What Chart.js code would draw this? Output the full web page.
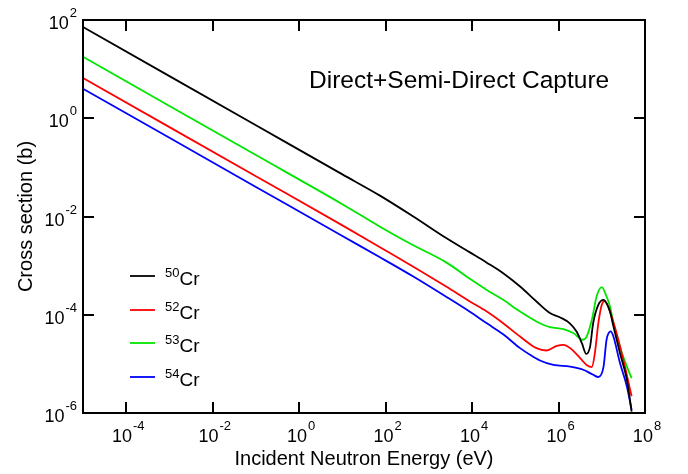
<!DOCTYPE html>
<html>
<head>
<meta charset="utf-8">
<title>Direct+Semi-Direct Capture</title>
<script src="https://cdn.jsdelivr.net/npm/chart.js@4.4.0/dist/chart.umd.min.js"></script>
<style>
  html, body { margin: 0; padding: 0; background: #fff; }
  canvas { display: block; }
</style>
</head>
<body>
<canvas id="capChart" width="688" height="474"></canvas>
<script>
// neutron energies (eV) and capture cross sections (b) per isotope
const energy50 = [1e-5, 1e-3, 0.1, 10, 74, 437, 2570, 8900, 21900, 52500, 1.29e5, 3.09e5, 6.31e5, 1.07e6, 1.82e6, 2.63e6, 3.47e6, 4.37e6, 5.37e6, 6.31e6, 8.32e6, 1.10e7, 1.29e7, 1.55e7, 1.86e7, 2.63e7, 3.8e7, 4.9e7];
const sigma50 = [72, 7.2, 0.72, 0.072, 0.0266, 0.0100, 3.6e-3, 1.86e-3, 1.15e-3, 7.0e-4, 3.75e-4, 1.86e-4, 1.08e-4, 8.9e-5, 6.7e-5, 4.5e-5, 2.64e-5, 1.6e-5, 2.25e-5, 6.7e-5, 1.59e-4, 2.01e-4, 1.72e-4, 1.16e-4, 5.8e-5, 1.66e-5, 4.8e-6, 1.07e-6];

const energy52 = [1e-5, 1e-3, 0.1, 10, 74, 437, 2570, 8900, 21900, 52500, 1.29e5, 3.09e5, 5.25e5, 9.12e5, 1.29e6, 1.86e6, 3.16e6, 4.47e6, 5.89e6, 6.92e6, 8.32e6, 1.0e7, 1.17e7, 1.41e7, 2.19e7, 3.16e7, 4.9e7];
const sigma52 = [6.6, 0.66, 0.066, 6.6e-3, 2.37e-3, 9.5e-4, 3.7e-4, 1.86e-4, 1.16e-4, 6.7e-5, 3.6e-5, 2.09e-5, 1.87e-5, 2.32e-5, 2.44e-5, 2.09e-5, 1.31e-5, 9.5e-6, 8.6e-6, 1.65e-5, 6.7e-5, 1.6e-4, 1.9e-4, 1.45e-4, 4.3e-5, 1.2e-5, 2.2e-6];

const energy53 = [1e-5, 1e-3, 0.1, 10, 74, 437, 2570, 8900, 21900, 52500, 1.29e5, 3.09e5, 6.31e5, 1.29e6, 2.19e6, 3.63e6, 4.47e6, 5.89e6, 7.59e6, 1.0e7, 1.29e7, 1.55e7, 1.86e7, 2.63e7, 3.8e7, 4.9e7];
const sigma53 = [17.8, 1.78, 0.178, 0.0178, 6.2e-3, 2.6e-3, 1.15e-3, 5.4e-4, 3.2e-4, 2.01e-4, 1.16e-4, 7.3e-5, 5.6e-5, 5.1e-5, 4.24e-5, 3.1e-5, 3.6e-5, 7.9e-5, 2.35e-4, 3.65e-4, 2.35e-4, 1.48e-4, 6.8e-5, 2.2e-5, 8.9e-6, 5.1e-6];

const energy54 = [1e-5, 1e-3, 0.1, 10, 74, 437, 2570, 8900, 21900, 52500, 1.29e5, 2.19e5, 3.72e5, 7.59e5, 1.86e6, 3.72e6, 6.31e6, 8.32e6, 1.10e7, 1.29e7, 1.62e7, 1.86e7, 2.63e7, 3.8e7, 4.9e7];
const sigma54 = [4.0, 0.40, 0.040, 4.0e-3, 1.48e-3, 6.0e-4, 2.3e-4, 1.15e-4, 6.7e-5, 4.0e-5, 2.09e-5, 1.53e-5, 1.17e-5, 9.5e-6, 8.8e-6, 7.6e-6, 6.0e-6, 5.4e-6, 8.8e-6, 3.1e-5, 4.6e-5, 3.6e-5, 1.05e-5, 3.5e-6, 1.17e-6];

const isotopes = ["50", "52", "53", "54"];
const lineColors = ["#000000", "#ff0000", "#00e600", "#0000ff"];

const xTickValues = [1e-4, 1e-2, 1, 1e2, 1e4, 1e6, 1e8];
const xTickExps = ["-4", "-2", "0", "2", "4", "6", "8"];
const yTickValues = [1e-6, 1e-4, 1e-2, 1, 1e2];
const yTickExps = ["-6", "-4", "-2", "0", "2"];

const FONT = "'Liberation Sans', Arial, Helvetica, sans-serif";

function toPoints(xs, ys) {
  return xs.map((x, i) => ({ x: x, y: ys[i] }));
}

// "10" with a raised exponent, baseline of the "10" at y
function drawPower(ctx, exp, x, y, align) {
  ctx.font = "18px " + FONT;
  const wBase = ctx.measureText("10").width;
  ctx.font = "13px " + FONT;
  const wExp = ctx.measureText(exp).width;
  const total = wBase + 1 + wExp;
  const left = align === "right" ? x - total : x - total / 2;
  ctx.textAlign = "left";
  ctx.textBaseline = "alphabetic";
  ctx.font = "18px " + FONT;
  ctx.fillText("10", left, y);
  ctx.font = "13px " + FONT;
  ctx.fillText(exp, left + wBase + 1, y - 12);
}

const framePlugin = {
  id: "frame",
  afterDatasetsDraw(chart) {
    const { ctx, chartArea: a, scales } = chart;
    const tickLen = 11;
    ctx.save();
    ctx.strokeStyle = "#000";
    ctx.fillStyle = "#000";
    ctx.lineWidth = 2;
    ctx.strokeRect(a.left, a.top, a.right - a.left, a.bottom - a.top);

    // inward ticks, mirrored on top and right
    ctx.beginPath();
    xTickValues.forEach((v) => {
      const px = Math.round(scales.x.getPixelForValue(v));
      ctx.moveTo(px, a.bottom);
      ctx.lineTo(px, a.bottom - tickLen);
      ctx.moveTo(px, a.top);
      ctx.lineTo(px, a.top + tickLen);
    });
    yTickValues.forEach((v) => {
      const py = Math.round(scales.y.getPixelForValue(v));
      ctx.moveTo(a.left, py);
      ctx.lineTo(a.left + tickLen, py);
      ctx.moveTo(a.right, py);
      ctx.lineTo(a.right - tickLen, py);
    });
    ctx.stroke();

    xTickValues.forEach((v, i) => {
      drawPower(ctx, xTickExps[i], scales.x.getPixelForValue(v) + 2, a.bottom + 29, "center");
    });
    yTickValues.forEach((v, i) => {
      drawPower(ctx, yTickExps[i], a.left - 6, scales.y.getPixelForValue(v) + 9, "right");
    });

    // legend with isotope mass numbers
    const rows = [276, 310, 343, 377];
    isotopes.forEach((iso, i) => {
      const y = rows[i];
      ctx.strokeStyle = lineColors[i];
      ctx.lineWidth = 1.8;
      ctx.beginPath();
      ctx.moveTo(130, y);
      ctx.lineTo(155, y);
      ctx.stroke();
      ctx.fillStyle = "#000";
      ctx.textAlign = "left";
      ctx.textBaseline = "alphabetic";
      ctx.font = "13px " + FONT;
      ctx.fillText(iso, 165, y + 1);
      const w = ctx.measureText(iso).width;
      ctx.font = "19px " + FONT;
      ctx.fillText("Cr", 165 + w, y + 9);
    });

    ctx.font = "24.5px " + FONT;
    ctx.fillText("Direct+Semi-Direct Capture", 309, 88);
    ctx.restore();
  },
};

const datasets = [
  [energy50, sigma50],
  [energy52, sigma52],
  [energy53, sigma53],
  [energy54, sigma54],
].map(([xs, ys], i) => ({
  label: isotopes[i] + "Cr",
  data: toPoints(xs, ys),
  borderColor: lineColors[i],
  borderWidth: 1.8,
  pointRadius: 0,
  fill: false,
  cubicInterpolationMode: "monotone",
}));

const ctx = document.getElementById("capChart").getContext("2d");
const chart = new Chart(ctx, {
  type: "line",
  data: { datasets: datasets },
  options: {
    responsive: false,
    devicePixelRatio: 1,
    animation: false,
    layout: { padding: { top: 20, right: 43, left: 0, bottom: 0 } },
    plugins: {
      legend: { display: false },
      tooltip: { enabled: false },
    },
    scales: {
      x: {
        type: "logarithmic",
        min: 1e-5,
        max: 1e8,
        grid: { display: false },
        border: { display: false },
        ticks: { display: false },
        title: {
          display: true,
          text: "Incident Neutron Energy (eV)",
          color: "#000",
          font: { family: FONT, size: 20 },
          padding: { top: 0, bottom: 3 },
        },
        afterFit(scale) {
          scale.height = 61;
        },
      },
      y: {
        type: "logarithmic",
        min: 1e-6,
        max: 1e2,
        grid: { display: false },
        border: { display: false },
        ticks: { display: false },
        title: {
          display: true,
          text: "Cross section (b)",
          color: "#000",
          font: { family: FONT, size: 20 },
          padding: { top: 14, bottom: 0 },
        },
        afterFit(scale) {
          scale.width = 83;
        },
      },
    },
  },
  plugins: [framePlugin],
});
</script>
</body>
</html>
